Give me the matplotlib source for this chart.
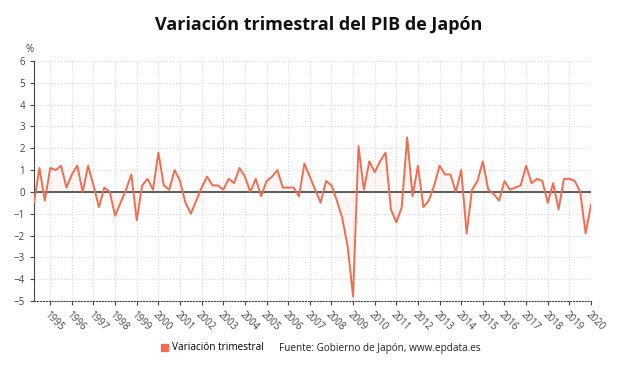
import matplotlib
matplotlib.use("Agg")
import matplotlib.pyplot as plt

plt.rcParams['font.family'] = ['Open Sans', 'DejaVu Sans']

# variación trimestral del PIB (%), desde 1994T2 hasta 2020T1
valores = [
    -0.5, 1.1, -0.4, 1.1, 1.0, 1.2, 0.2, 0.8, 1.2, 0.0,
    1.2, 0.3, -0.7, 0.2, 0.0, -1.1, -0.5, 0.1, 0.8, -1.3,
    0.3, 0.6, 0.1, 1.8, 0.3, 0.1, 1.0, 0.5, -0.5, -1.0,
    -0.4, 0.2, 0.7, 0.3, 0.3, 0.1, 0.6, 0.4, 1.1, 0.7,
    0.0, 0.6, -0.2, 0.5, 0.7, 1.0, 0.2, 0.2, 0.2, -0.2,
    1.3, 0.7, 0.1, -0.5, 0.5, 0.3, -0.4, -1.2, -2.5, -4.8,
    2.1, 0.1, 1.4, 0.9, 1.4, 1.8, -0.8, -1.4, -0.7, 2.5,
    -0.2, 1.2, -0.7, -0.4, 0.3, 1.2, 0.8, 0.8, 0.0, 1.0,
    -1.9, 0.1, 0.5, 1.4, 0.1, -0.1, -0.4, 0.5, 0.1, 0.2,
    0.3, 1.2, 0.4, 0.6, 0.5, -0.5, 0.4, -0.8, 0.6, 0.6,
    0.5, 0.0, -1.9, -0.6]
anio_inicio, trim_inicio = 1994, 2
anios = list(range(1995, 2021))

color = '#f26d4f'
x = list(range(len(valores)))
# posición del primer trimestre de cada año
ticks = [(a - anio_inicio) * 4 + (1 - trim_inicio) for a in anios]

fig = plt.figure(figsize=(6.38, 3.75), dpi=100)
ax = fig.add_axes([34 / 638, 1 - 301 / 375, 557 / 638, 240 / 375])

ax.fill_between(x, valores, 0, color=color, alpha=0.06, lw=0)
ax.plot(x, valores, color=color, lw=1.4, label='Variación trimestral', zorder=3)
ax.axhline(0, color='#333333', lw=1.1, zorder=2)

ax.set_xlim(0, len(valores) - 1)
ax.set_ylim(-5, 6)
ax.set_yticks(range(-5, 7))
ax.set_xticks(ticks)
ax.set_xticklabels([str(a) for a in anios], rotation=-45, ha='left',
                   va='top', rotation_mode='anchor')
ax.tick_params(axis='both', labelsize=7, colors='#444444', length=3,
               width=0.8)
ax.tick_params(axis='x', pad=3)
ax.grid(True, color='#d6d6d6', ls=':', lw=0.8)

for side in ['top', 'right']:
    ax.spines[side].set_visible(False)
ax.spines['left'].set_color('#444444')
ax.spines['bottom'].set_color('#444444')
ax.spines['bottom'].set_linestyle(':')

fig.text(26 / 638, 1 - 50 / 375, '%', fontsize=7, color='#444444',
         ha='left', va='center')
fig.text(0.5, 1 - 25 / 375, 'Variación trimestral del PIB de Japón',
         fontsize=13, fontweight='bold', ha='center', va='center',
         color='#111111')

fig.legend(loc='center left', bbox_to_anchor=(152 / 638, 1 - 348 / 375),
           frameon=False, fontsize=7.2, handlelength=0.7, handleheight=0.7,
           handles=[plt.Rectangle((0, 0), 1, 1, color=color)],
           labels=['Variación trimestral'], handletextpad=0.4)
fig.text(279 / 638, 1 - 348 / 375,
         'Fuente: Gobierno de Japón, www.epdata.es', fontsize=7.2,
         color='#222222', ha='left', va='center')

fig.savefig('out.png', dpi=100)
